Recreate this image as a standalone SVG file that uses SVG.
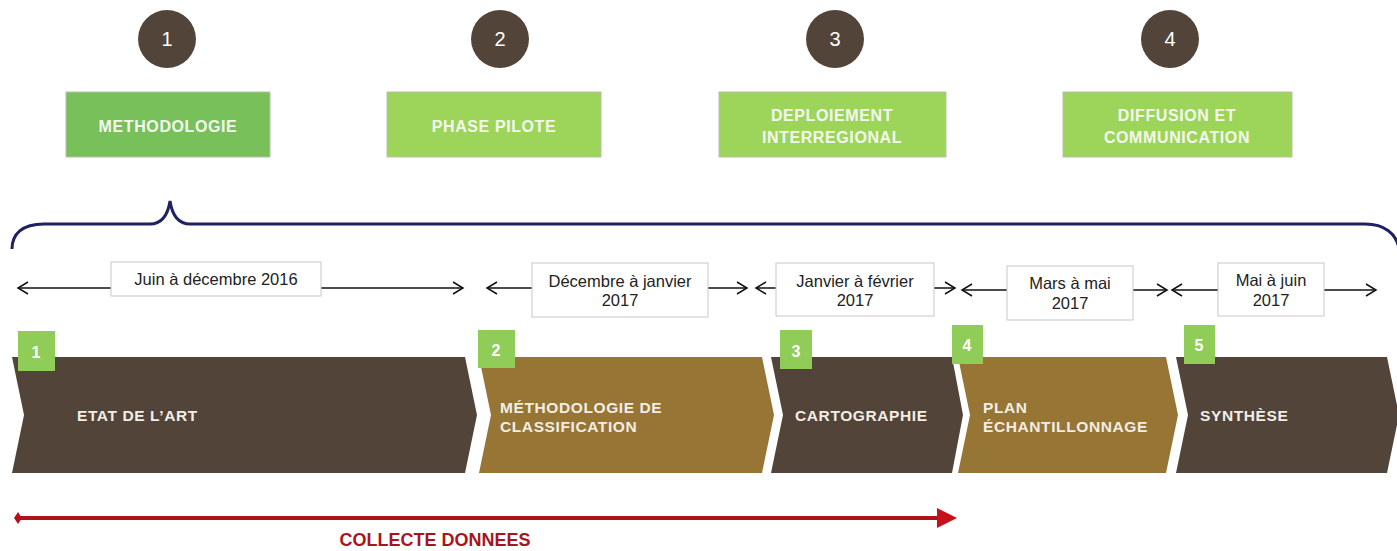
<svg xmlns="http://www.w3.org/2000/svg" width="1397" height="551" viewBox="0 0 1397 551">
<style>
.circ{fill:#524438}
.num{font-family:"Liberation Sans",Arial,sans-serif;font-size:20px;fill:#ffffff;text-anchor:middle}
.gbox{fill:#9dd55a;stroke:#b8c0b0;stroke-width:1}
.gbox1{fill:#78c05a;stroke:#b8c0b0;stroke-width:1}
.gtxt{font-family:"Liberation Sans",Arial,sans-serif;font-weight:bold;font-size:16px;letter-spacing:0.6px;fill:#f4f8ee;text-anchor:middle}
.dbox{fill:#ffffff;stroke:#c8c8c8;stroke-width:1}
.dtxt{font-family:"Liberation Sans",Arial,sans-serif;font-size:16.5px;fill:#222222;text-anchor:middle}
.dline{stroke:#111111;stroke-width:1.5;fill:none}
.dark{fill:#524438}
.gold{fill:#967535}
.sq{fill:#8fcc58}
.sqn{font-family:"Liberation Sans",Arial,sans-serif;font-weight:bold;font-size:16px;fill:#ffffff;text-anchor:middle}
.ctxt{font-family:"Liberation Sans",Arial,sans-serif;font-weight:bold;font-size:15.5px;letter-spacing:0.6px;fill:#f2eee6}
</style>
<defs>
<marker id="open" viewBox="-12 -8 14 16" refX="0" refY="0" markerWidth="14" markerHeight="16" markerUnits="userSpaceOnUse" orient="auto-start-reverse">
<path d="M-10,-6 L0,0 L-10,6" fill="none" stroke="#111111" stroke-width="1.5"/>
</marker>
</defs>

<g id="phase1"><circle class="circ" cx="167" cy="39" r="29"/><text class="num" x="167" y="46">1</text></g>
<g id="phase2"><circle class="circ" cx="500" cy="39" r="29"/><text class="num" x="500" y="46">2</text></g>
<g id="phase3"><circle class="circ" cx="835" cy="39" r="29"/><text class="num" x="835" y="46">3</text></g>
<g id="phase4"><circle class="circ" cx="1170" cy="39" r="29"/><text class="num" x="1170" y="46">4</text></g>

<g id="box-methodologie"><rect class="gbox1" x="66" y="92" width="204" height="65"/><text class="gtxt" x="168" y="132">METHODOLOGIE</text></g>
<g id="box-pilote"><rect class="gbox" x="387" y="92" width="214" height="65"/><text class="gtxt" x="494" y="132">PHASE PILOTE</text></g>
<g id="box-deploiement"><rect class="gbox" x="719" y="92" width="227" height="65"/><text class="gtxt" x="832" y="121">DEPLOIEMENT</text><text class="gtxt" x="832" y="143">INTERREGIONAL</text></g>
<g id="box-diffusion"><rect class="gbox" x="1063" y="92" width="229" height="65"/><text class="gtxt" x="1177" y="121">DIFFUSION ET</text><text class="gtxt" x="1177" y="143">COMMUNICATION</text></g>

<g id="brace"><path d="M12,249 C12,234 22,224 44,224 L150,224 C162,224 168,214 170,201 C172,214 178,224 190,224 L1365,224 C1385,224 1396,234 1399,248" fill="none" stroke="#1f2160" stroke-width="3"/></g>

<g id="connectors">
<line class="dline" x1="18" y1="288" x2="463" y2="288" marker-start="url(#open)" marker-end="url(#open)"/>
<line class="dline" x1="487" y1="288" x2="747" y2="288" marker-start="url(#open)" marker-end="url(#open)"/>
<line class="dline" x1="756" y1="288" x2="955" y2="288" marker-start="url(#open)" marker-end="url(#open)"/>
<line class="dline" x1="962" y1="290" x2="1167" y2="290" marker-start="url(#open)" marker-end="url(#open)"/>
<line class="dline" x1="1172" y1="290" x2="1376" y2="290" marker-start="url(#open)" marker-end="url(#open)"/>
<line x1="20" y1="518" x2="940" y2="518" stroke="#b0121a" stroke-width="4"/>
<polygon points="14,518 18,512 22,518 18,524" fill="#b0121a"/>
<polygon points="937,508 957,518 937,528" fill="#c8101a"/>
</g>

<g id="date1"><rect class="dbox" x="111" y="262" width="210" height="34"/><text class="dtxt" x="216" y="285">Juin à décembre 2016</text></g>
<g id="date2"><rect class="dbox" x="532" y="263" width="176" height="54"/><text class="dtxt" x="620" y="287">Décembre à janvier</text><text class="dtxt" x="620" y="306">2017</text></g>
<g id="date3"><rect class="dbox" x="776" y="263" width="158" height="53"/><text class="dtxt" x="855" y="287">Janvier à février</text><text class="dtxt" x="855" y="306">2017</text></g>
<g id="date4"><rect class="dbox" x="1007" y="266" width="126" height="54"/><text class="dtxt" x="1070" y="289">Mars à mai</text><text class="dtxt" x="1070" y="309">2017</text></g>
<g id="date5"><rect class="dbox" x="1218" y="263" width="106" height="53"/><text class="dtxt" x="1271" y="286">Mai à juin</text><text class="dtxt" x="1271" y="306">2017</text></g>

<g id="step1"><polygon class="dark" points="12,357 465,357 477,415 465,473 12,473 24,415"/><rect class="sq" x="18" y="331" width="37" height="40"/><text class="sqn" x="36" y="358">1</text><text class="ctxt" x="77" y="421">ETAT DE L’ART</text></g>
<g id="step2"><polygon class="gold" points="479,357 762,357 774,415 762,473 479,473 491,415"/><rect class="sq" x="478" y="330" width="37" height="38"/><text class="sqn" x="496" y="356">2</text><text class="ctxt" x="500" y="413">MÉTHODOLOGIE DE</text><text class="ctxt" x="500" y="432">CLASSIFICATION</text></g>
<g id="step3"><polygon class="dark" points="771,357 952,357 963,415 952,473 771,473 783,415"/><rect class="sq" x="780" y="330" width="32" height="39"/><text class="sqn" x="796" y="357">3</text><text class="ctxt" x="795" y="421">CARTOGRAPHIE</text></g>
<g id="step4"><polygon class="gold" points="958,357 1166,357 1178,415 1166,473 958,473 970,415"/><rect class="sq" x="952" y="325" width="31" height="39"/><text class="sqn" x="967" y="351">4</text><text class="ctxt" x="983" y="413">PLAN</text><text class="ctxt" x="983" y="432">ÉCHANTILLONNAGE</text></g>
<g id="step5"><polygon class="dark" points="1176,357 1387,357 1399,415 1387,473 1176,473 1188,415"/><rect class="sq" x="1184" y="325" width="31" height="39"/><text class="sqn" x="1199" y="351">5</text><text class="ctxt" x="1200" y="421">SYNTHÈSE</text></g>

<g id="collecte"><text x="435" y="546" font-family="'Liberation Sans',Arial,sans-serif" font-weight="bold" font-size="18px" fill="#a8141c" text-anchor="middle">COLLECTE DONNEES</text></g>
</svg>
